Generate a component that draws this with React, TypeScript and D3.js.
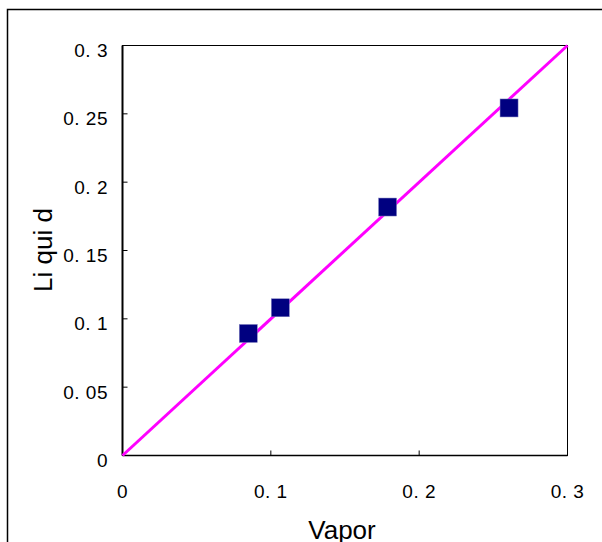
import React from "react";
import * as d3 from "d3";

const vapor = [0.0848, 0.1064, 0.1787, 0.2606];
const liquid = [0.0893, 0.1081, 0.1818, 0.2543];
const diagonal = [0, 0.3];
const xTicks = [0, 0.1, 0.2, 0.3];
const yTicks = [0, 0.05, 0.1, 0.15, 0.2, 0.25, 0.3];

const fmt = (v: number) => (v === 0 ? "0" : String(+v.toFixed(2)).replace(".", ". "));

export default function App() {
  const left = 122.5, right = 567.5, top = 45.5, bottom = 455.5;
  const x = d3.scaleLinear().domain([0, 0.3]).range([left, right]);
  const y = d3.scaleLinear().domain([0, 0.3]).range([bottom, top]);
  const line = d3.line<number>().x((d) => x(d)).y((d) => y(d));
  const font = "'Liberation Sans', Arial, sans-serif";
  const sq = 18;
  return (
    <svg width={602} height={542} style={{ position: "absolute", left: 0, top: 0, background: "#fff" }}>
      <rect x={7.5} y={9.5} width={800} height={800} fill="#fff" stroke="#000" strokeWidth={1.5} />
      <rect x={left} y={top} width={right - left} height={bottom - top} fill="#fff" stroke="#000" strokeWidth={1} />
      <line x1={left} x2={left} y1={top} y2={bottom} stroke="#000" strokeWidth={2} />
      <line x1={left} x2={right} y1={bottom} y2={bottom} stroke="#000" strokeWidth={1.5} />
      {yTicks.slice(1, -1).map((t) => (
        <line key={"yt" + t} x1={left} x2={left + 5} y1={y(t)} y2={y(t)} stroke="#000" strokeWidth={1} />
      ))}
      {xTicks.slice(1, -1).map((t) => (
        <line key={"xt" + t} x1={x(t)} x2={x(t)} y1={bottom} y2={bottom - 5} stroke="#000" strokeWidth={1} />
      ))}
      {yTicks.map((t) => (
        <text key={"yl" + t} x={108} y={y(t) + 11.5} textAnchor="end" fontFamily={font} fontSize={19} letterSpacing={0.5} fill="#000">
          {fmt(t)}
        </text>
      ))}
      {xTicks.map((t) => (
        <text key={"xl" + t} x={x(t)} y={498} textAnchor="middle" fontFamily={font} fontSize={19} letterSpacing={0.5} fill="#000">
          {fmt(t)}
        </text>
      ))}
      <path d={line(diagonal) || ""} stroke="#FF00FF" strokeWidth={3} fill="none" />
      {vapor.map((v, i) => (
        <rect key={"p" + i} x={x(v) - sq / 2} y={y(liquid[i]) - sq / 2} width={sq} height={sq} fill="#000080" stroke="#8080c0" strokeWidth={0.5} />
      ))}
      <text x={342} y={539} textAnchor="middle" fontFamily={font} fontSize={26} fill="#000">Vapor</text>
      <text transform={`translate(52,250) rotate(-90)`} textAnchor="middle" fontFamily={font} fontSize={26} fill="#000">Li qui d</text>
    </svg>
  );
}
